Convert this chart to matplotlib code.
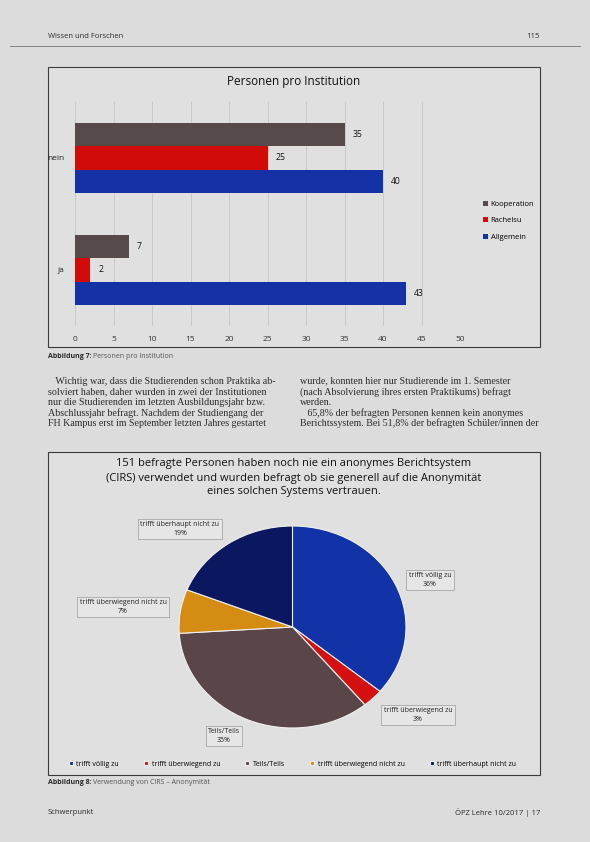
import matplotlib
matplotlib.use("Agg")
import matplotlib.pyplot as plt
from matplotlib.patches import Rectangle
import numpy as np

# ---------------- data ----------------
bar_categories = ["ja", "nein"]
bar_series = ["Kooperation", "Rachelsu", "Allgemein"]
kooperation = [7, 35]
rachelsu = [2, 25]
allgemein = [43, 40]
bar_colors = ["#574a4b", "#d10a0a", "#1431a6"]
x_ticks = [0, 5, 10, 15, 20, 25, 30, 35, 40, 45, 50]

pie_labels = ["trifft völlig zu", "trifft überwiegend zu", "Teils/Teils",
              "trifft überwiegend nicht zu", "trifft überhaupt nicht zu"]
pie_values = [36, 3, 35, 7, 19]
pie_colors = ["#1232a8", "#d41010", "#5a4649", "#d58c12", "#0b175e"]

W, H = 590, 842
BG = "#dcdcdc"
fig = plt.figure(figsize=(W / 100, H / 100), dpi=100, facecolor=BG)

def fx(x):
    return x / W

def fy(y):
    return 1 - y / H

def rect_axes(l, t, r, b):
    return fig.add_axes([fx(l), fy(b), fx(r) - fx(l), fy(t) - fy(b)])

SANS = ["Open Sans", "DejaVu Sans"]
SERIF = ["Liberation Serif", "DejaVu Serif"]
TXT = "#2a2a2a"

# ---------------- page header ----------------
fig.text(fx(48), fy(36), "Wissen und Forschen", family=SANS, fontsize=5.5, color=TXT, va="center")
fig.text(fx(540), fy(36), "115", family=SANS, fontsize=5.5, color=TXT, va="center", ha="right")
fig.add_artist(plt.Line2D([fx(10), fx(580)], [fy(46), fy(46)], color="#777777", lw=0.6))

# ---------------- bar chart box ----------------
fig.add_artist(Rectangle((fx(48), fy(347)), fx(540) - fx(48), fy(67) - fy(347),
                         transform=fig.transFigure, facecolor="#e0e0e0",
                         edgecolor="#3a3a3a", lw=0.8, zorder=-10))
fig.text(fx(294), fy(81), "Personen pro Institution", family=SANS, fontsize=8.5,
         color="#111111", ha="center", va="center")

axb = rect_axes(75, 102, 460, 326)
axb.set_facecolor("none")
y = np.arange(len(bar_categories))
h = 0.21
series_vals = [kooperation, rachelsu, allgemein]
offsets = [h, 0, -h]
for name, vals, col, off in zip(bar_series, series_vals, bar_colors, offsets):
    bars = axb.barh(y + off, vals, height=h, color=col, label=name, zorder=3)
    for rect, v in zip(bars, vals):
        axb.text(rect.get_width() + 1.0, rect.get_y() + rect.get_height() / 2, str(v),
                 va="center", ha="left", fontsize=6.2, family=SANS, color="#111111", zorder=4)
axb.set_xlim(0, 50)
axb.set_ylim(-0.5, 1.5)
axb.set_xticks(x_ticks)
axb.set_xticklabels([str(t) for t in x_ticks], family=SANS, fontsize=6, color="#333333")
axb.set_yticks(y)
axb.set_yticklabels(bar_categories, family=SANS, fontsize=6, color="#222222")
axb.tick_params(length=0, pad=7)
axb.tick_params(axis="y", pad=8)
axb.grid(axis="x", color="#cacaca", lw=0.7, zorder=0)
for s in axb.spines.values():
    s.set_visible(False)
axw = fx(460) - fx(75)
axb.legend(loc="center left", bbox_to_anchor=((fx(480) - fx(75)) / axw, 0.47),
           frameon=False, prop={"family": SANS, "size": 5.5}, handlelength=0.7,
           handleheight=0.7, labelspacing=1.2, handletextpad=0.3, borderaxespad=0)

fig.text(fx(48), fy(357), "Abbildung 7:", family=SANS, fontsize=5, weight="bold", color=TXT, va="center")
fig.text(fx(93), fy(357), "Personen pro Institution", family=SANS, fontsize=5, color="#555555", va="center")

# ---------------- body text ----------------
left_lines = ["   Wichtig war, dass die Studierenden schon Praktika ab-",
              "solviert haben, daher wurden in zwei der Institutionen",
              "nur die Studierenden im letzten Ausbildungsjahr bzw.",
              "Abschlussjahr befragt. Nachdem der Studiengang der",
              "FH Kampus erst im September letzten Jahres gestartet"]
right_lines = ["wurde, konnten hier nur Studierende im 1. Semester",
               "(nach Absolvierung ihres ersten Praktikums) befragt",
               "werden.",
               "   65,8% der befragten Personen kennen kein anonymes",
               "Berichtssystem. Bei 51,8% der befragten Schüler/innen der"]
for i, (l, r) in enumerate(zip(left_lines, right_lines)):
    yy = 381 + i * 10.6
    fig.text(fx(48), fy(yy), l, family=SERIF, fontsize=7.2, color=TXT, va="center")
    fig.text(fx(300), fy(yy), r, family=SERIF, fontsize=7.2, color=TXT, va="center")

# ---------------- pie chart box ----------------
fig.add_artist(Rectangle((fx(48), fy(775)), fx(540) - fx(48), fy(452) - fy(775),
                         transform=fig.transFigure, facecolor="#e0e0e0",
                         edgecolor="#3a3a3a", lw=0.8, zorder=-10))
title_lines = ["151 befragte Personen haben noch nie ein anonymes Berichtsystem",
               "(CIRS) verwendet und wurden befragt ob sie generell auf die Anonymität",
               "eines solchen Systems vertrauen."]
for i, t in enumerate(title_lines):
    fig.text(fx(294), fy(464 + i * 14), t, family=SANS, fontsize=8, color="#111111",
             ha="center", va="center")

axp = rect_axes(179, 526, 406, 728)
wedges, _ = axp.pie(pie_values, colors=pie_colors, startangle=90, counterclock=False,
                    wedgeprops={"edgecolor": "#f0f0f0", "linewidth": 0.8})
axp.set_aspect("auto")
axp.set_xlim(-1, 1)
axp.set_ylim(-1, 1)
axp.axis("off")

label_pos = [(430, 580), (418, 715), (224, 736), (123, 607), (180, 529)]
for lab, val, (px_, py_) in zip(pie_labels, pie_values, label_pos):
    fig.text(fx(px_), fy(py_), f"{lab}\n{val}%", family=SANS, fontsize=5, color="#222222",
             ha="center", va="center", linespacing=1.3,
             bbox=dict(boxstyle="square,pad=0.35", facecolor="#e6e6e6", edgecolor="#9a9a9a", lw=0.5))

axp.legend(wedges, pie_labels, loc="center", bbox_to_anchor=(0.5, (fy(764) - fy(728)) / (fy(526) - fy(728))),
           ncol=5, frameon=False, prop={"family": SANS, "size": 5}, handlelength=0.6,
           handleheight=0.6, columnspacing=3.6, handletextpad=0.5)

fig.text(fx(48), fy(782), "Abbildung 8:", family=SANS, fontsize=5, weight="bold", color=TXT, va="center")
fig.text(fx(93), fy(782), "Verwendung von CIRS – Anonymität", family=SANS, fontsize=5, color="#555555", va="center")

# ---------------- footer ----------------
fig.text(fx(48), fy(813), "Schwerpunkt", family=SANS, fontsize=5.5, color=TXT, va="center")
fig.text(fx(540), fy(813), "ÖPZ Lehre 10/2017 | 17", family=SANS, fontsize=5.5, color=TXT, va="center", ha="right")

fig.savefig("out.png", dpi=100, facecolor=BG)
